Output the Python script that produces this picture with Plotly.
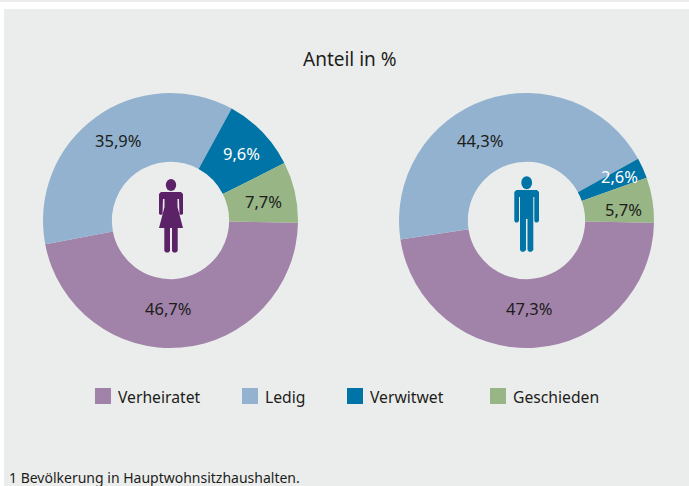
import plotly.graph_objects as go

W, H = 689, 486
categories = ["Verheiratet", "Ledig", "Verwitwet", "Geschieden"]
colors = ["#a183aa", "#92b2cf", "#0074a6", "#97b585"]
women = [46.7, 35.9, 9.6, 7.7]
men = [47.3, 44.3, 2.6, 5.7]
women_labels = ["46,7%", "35,9%", "9,6%", "7,7%"]
men_labels = ["47,3%", "44,3%", "2,6%", "5,7%"]
text_colors = ["#1d1d1b", "#1d1d1b", "#ffffff", "#1d1d1b"]
women_label_pos = [(167.5, 308), (117.5, 141), (241.5, 153), (263.5, 201)]
men_label_pos = [(529, 308), (480, 141), (619.5, 176), (623.5, 209)]
title = "Anteil in %"
footnote = "1 Bevölkerung in Hauptwohnsitzhaushalten."
FONT = "Noto Sans"


def X(p):
    return p / W


def Y(p):
    return 1 - p / H


def path(points):
    return "M" + " L".join(f"{X(x):.5f},{Y(y):.5f}" for x, y in points) + " Z"


def rect(x0, y0, x1, y1, color):
    return dict(type="rect", xref="paper", yref="paper", x0=X(x0), x1=X(x1), y0=Y(y1), y1=Y(y0),
                fillcolor=color, line_width=0, layer="below")


def head(cx, cy, rx, ry, color):
    return dict(type="circle", xref="paper", yref="paper", x0=X(cx - rx), x1=X(cx + rx),
                y0=Y(cy + ry), y1=Y(cy - ry), fillcolor=color, line_width=0, layer="above")


def poly(points, color):
    return dict(type="path", xref="paper", yref="paper", path=path(points), fillcolor=color,
                line_width=0, layer="above")


def note(text, x, y, size, color="#1d1d1b", anchor="center"):
    return dict(text=text, x=X(x), y=Y(y), xref="paper", yref="paper", showarrow=False,
                xanchor=anchor, yanchor="middle", font=dict(family=FONT, size=size, color=color))


def pie(values, labels, cx, cy, r):
    return go.Pie(
        labels=categories, values=values, text=labels, textinfo="none", sort=False,
        direction="clockwise", rotation=91, hole=0.46,
        marker=dict(colors=colors, line=dict(width=0)),
        domain=dict(x=[X(cx - r), X(cx + r)], y=[Y(cy + r), Y(cy - r)]),
        showlegend=False, hoverinfo="label+text",
    )


fig = go.Figure()
fig.add_trace(pie(women, women_labels, 170.5, 220.5, 127.5))
fig.add_trace(pie(men, men_labels, 526.5, 220.5, 127.5))

purple = "#5c2268"
blue = "#0074a6"
shapes = [
    rect(0, 0, W, 2, "#ebedec"),
    rect(4, 9, W, H, "#ebedec"),
    head(171, 185, 5.2, 6, purple),
    poly([(161, 192), (181, 192), (183, 194), (183, 214), (181, 215), (179.5, 214), (179, 199), (177.5, 199),
          (177.5, 207), (183, 228), (177.7, 228), (177.7, 251), (176, 252.5), (173.5, 252.5), (172, 251), (172, 228),
          (170, 228), (170, 251), (168.5, 252.5), (166, 252.5), (164.3, 251), (164.3, 228), (159, 228),
          (164.5, 207), (164.5, 199), (163, 199), (162.5, 214), (161, 215), (159, 214), (159, 194)], purple),
    head(526.7, 182.7, 5.4, 6.5, blue),
    poly([(516.5, 190), (537, 190), (539, 192), (539, 221), (537.5, 222.5), (535.5, 222.5), (534.3, 221),
          (534.3, 197), (533.3, 197), (533.3, 250), (531.5, 251.7), (529, 251.7), (527.5, 250), (527.5, 219),
          (526, 219), (526, 250), (524, 251.7), (521.5, 251.7), (520, 250), (520, 197), (519, 197),
          (519, 221), (517.5, 222.5), (515.5, 222.5), (514.3, 221), (514.3, 192)], blue),
]

swatch_x = [95, 242, 347, 490]
annotations = [note(title, 349.5, 59, 19), note(footnote, 7, 477, 14, anchor="left")]
for sx, name, col in zip(swatch_x, categories, colors):
    shapes.append(rect(sx, 388, sx + 16, 404, col))
    annotations.append(note(name, sx + 21, 397, 15.7, anchor="left"))
for positions, labels in ((women_label_pos, women_labels), (men_label_pos, men_labels)):
    for (px, py), lab, tc in zip(positions, labels, text_colors):
        annotations.append(note(lab, px, py, 16.5, color=tc))

fig.update_layout(width=W, height=H, margin=dict(l=0, r=0, t=0, b=0), paper_bgcolor="#ffffff",
                  shapes=shapes, annotations=annotations, font=dict(family=FONT))
fig.write_html("out.html", config=dict(displayModeBar=False),
               post_script="document.body.style.margin='0';")
